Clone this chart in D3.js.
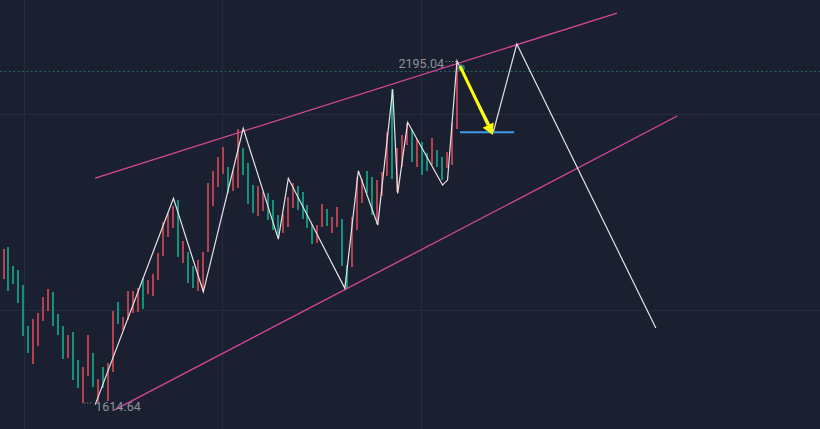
<!DOCTYPE html>
<html>
<head>
<meta charset="utf-8">
<script src="https://cdn.jsdelivr.net/npm/d3@7"></script>
<style>
html,body{margin:0;padding:0;background:#1b2030;overflow:hidden;}
svg{display:block;}
</style>
</head>
<body>
<svg id="chart" width="820" height="429"></svg>
<script>
// ---- data (weekly bars) ----
const dirs = "UDDDDDUUUU" + "DDDUDDUUDU" + "DUUDUUUUDU" + "UUUUUDUDDU" + "UUUUUDUUDD" +
             "DUUDDDUUUD" + "DDDUUDUUDD" + "UUUDDUUUDU" + "UUDUDDUDDU" + "UU";
const highs = [1875.4,1878.8,1846.5,1839.7,1814.2,1744.5,1756.4,1766.6,1793.8,1807.4,
  1802.3,1764.9,1744.5,1729.2,1734.3,1686.7,1674.8,1729.2,1698.6,1654.4,
  1674.8,1681.6,1770.0,1785.3,1759.8,1804.0,1804.0,1809.1,1826.1,1822.7,
  1832.9,1868.6,1921.3,1936.6,1948.5,1958.7,1889.0,1870.3,1846.5,1856.7,
  1870.3,1987.6,2008.0,2031.8,2048.8,2014.8,2009.7,2079.4,2047.1,2021.6,
  1984.2,1982.5,1972.3,1970.6,1958.7,1933.2,1934.9,1963.8,1987.6,1982.5,
  1972.3,1950.2,1917.9,1916.2,1951.9,1943.4,1929.8,1946.8,1926.4,1848.2,
  1929.8,1997.8,1994.4,2008.0,1997.8,1992.7,2006.3,2074.3,2147.4,2047.1,
  2069.2,2089.6,2079.4,2062.4,2057.3,2038.6,2064.1,2043.7,2031.8,2040.3,
  2089.6,2195.04];
const lows = [1824.4,1804.0,1815.9,1783.6,1727.5,1698.6,1679.9,1710.5,1753.0,1770.0,
  1744.5,1729.2,1688.4,1690.1,1652.7,1639.1,1614.64,1659.5,1640.8,1616.0,
  1639.1,1617.0,1666.3,1747.9,1737.7,1754.7,1766.6,1768.3,1773.4,1798.9,
  1795.5,1822.7,1863.5,1895.8,1911.1,1861.8,1851.6,1817.6,1809.1,1804.0,
  1802.3,1870.3,1948.5,1980.8,2002.9,1970.6,1974.0,1979.1,2001.2,1951.9,
  1936.6,1931.5,1940.0,1924.7,1907.7,1895.8,1902.6,1912.8,1945.1,1941.7,
  1926.4,1911.1,1883.9,1885.6,1912.8,1914.5,1902.6,1912.8,1846.5,1809.1,
  1844.8,1907.7,1953.6,1970.6,1933.2,1917.9,1965.5,1999.5,1994.4,1972.3,
  2014.8,2052.2,2023.3,2014.8,2001.2,2008.0,2018.2,2014.8,1992.7,2013.1,
  2018.2,2079.4];

const hiLabel = "2195.04", hiIdx = 91, hiPrice = 2195.04;
const loLabel = "1614.64", loIdx = 16, loPrice = 1614.64;
const lastPrice = 2178.0;

// zigzag wave (bar index, price), incl. projected path
const zigIdx   = [18.4, 34.1, 40.1, 48.1, 55.15, 57.15, 68.5, 71.2, 75.1, 78.1, 79.1, 81.1, 88.1, 89.1, 91.0, 98.3, 103.0, 130.9];
const zigPrice = [1611, 1961.6, 1802.8, 2080.6, 1892.4, 1995.6, 1808.6, 2008.5, 1916.2, 2146.9, 1970.1, 2090.8, 1984.2, 1992.7, 2195.04, 2074.8, 2223.9, 1741.1];

// channel lines
const upperIdx = [18.4, 123.1], upperPrice = [1996.1, 2276.6];
const lowerIdx = [22.2, 135.2], lowerPrice = [1601.7, 2101.5];

// arrow and target line
const arrowIdx = [91.6, 98.2], arrowPrice = [2186.5, 2069.2];
const targetIdx = [91.6, 102.45], targetPrice = 2073.8;

// grid
const gridPrices = [2104.9, 1771.7];
const gridIdx = [4.1, 43.85, 83.85];

// ---- drawing ----
const W = 820, H = 429;
const svg = d3.select("#chart");
const x = d3.scaleLinear().domain([0, 91]).range([3.5, 457]);
const y = d3.scaleLinear().domain([loPrice, hiPrice]).range([402.5, 61]);

svg.append("rect").attr("width", W).attr("height", H).attr("fill", "#1b2030");

// grid
svg.append("g").selectAll("line").data(gridPrices).join("line")
  .attr("x1", 0).attr("x2", W)
  .attr("y1", d => Math.round(y(d)) + 0.5).attr("y2", d => Math.round(y(d)) + 0.5)
  .attr("stroke", "#252c3b").attr("stroke-width", 1);
svg.append("g").selectAll("line").data(gridIdx).join("line")
  .attr("y1", 0).attr("y2", H)
  .attr("x1", d => Math.round(x(d)) + 0.5).attr("x2", d => Math.round(x(d)) + 0.5)
  .attr("stroke", "#252c3b").attr("stroke-width", 1);

// last price dotted line
svg.append("line")
  .attr("x1", 0).attr("x2", W)
  .attr("y1", Math.round(y(lastPrice)) + 0.5).attr("y2", Math.round(y(lastPrice)) + 0.5)
  .attr("stroke", "#2a6462").attr("stroke-width", 1).attr("stroke-dasharray", "2,2.4");

// candles
const bars = d3.range(highs.length).map(i => ({i, h: highs[i], l: lows[i], up: dirs[i] === "U"}));
svg.append("g").attr("shape-rendering", "crispEdges").selectAll("rect").data(bars).join("rect")
  .attr("x", d => Math.round(x(d.i)) - 1)
  .attr("width", 2)
  .attr("y", d => y(d.h))
  .attr("height", d => Math.max(1, y(d.l) - y(d.h)))
  .attr("fill", d => d.up ? "#b4414f" : "#14917b");

const line = d3.line().x(d => x(d[0])).y(d => y(d[1]));

// channel
svg.append("path").datum(d3.zip(upperIdx, upperPrice)).attr("d", line)
  .attr("fill", "none").attr("stroke", "#d9469a").attr("stroke-width", 1.3);
svg.append("path").datum(d3.zip(lowerIdx, lowerPrice)).attr("d", line)
  .attr("fill", "none").attr("stroke", "#d9469a").attr("stroke-width", 1.3);

// zigzag
svg.append("path").datum(d3.zip(zigIdx, zigPrice)).attr("d", line)
  .attr("fill", "none").attr("stroke", "#e3e3e6").attr("stroke-width", 1.2)
  .attr("stroke-linejoin", "miter");

// target line
svg.append("line")
  .attr("x1", x(targetIdx[0])).attr("x2", x(targetIdx[1]))
  .attr("y1", y(targetPrice)).attr("y2", y(targetPrice))
  .attr("stroke", "#3d9ae8").attr("stroke-width", 2);

// arrow start marker
svg.append("circle").attr("cx", x(arrowIdx[0]) + 1.5).attr("cy", y(arrowPrice[0]) + 2)
  .attr("r", 3.5).attr("fill", "#1f9c86").attr("opacity", 0.75);

// yellow arrow
const ax0 = x(arrowIdx[0]), ay0 = y(arrowPrice[0]), ax1 = x(arrowIdx[1]), ay1 = y(arrowPrice[1]);
const ang = Math.atan2(ay1 - ay0, ax1 - ax0);
const headLen = 11, headW = 6;
const bx = ax1 - headLen * Math.cos(ang), by = ay1 - headLen * Math.sin(ang);
svg.append("line").attr("x1", ax0).attr("y1", ay0).attr("x2", bx).attr("y2", by)
  .attr("stroke", "#ffff00").attr("stroke-width", 3);
svg.append("path")
  .attr("d", `M${ax1},${ay1}L${bx + headW * Math.sin(ang)},${by - headW * Math.cos(ang)}L${bx - headW * Math.sin(ang)},${by + headW * Math.cos(ang)}Z`)
  .attr("fill", "#ffff00");

// high / low labels
const labColor = "#8e929b";
const hx = x(hiIdx), hy = y(hiPrice);
svg.append("line").attr("x1", hx - 11).attr("x2", hx - 1).attr("y1", hy + 0.5).attr("y2", hy + 0.5)
  .attr("stroke", labColor).attr("stroke-width", 1).attr("stroke-dasharray", "1,2");
svg.append("text").attr("x", hx - 13).attr("y", hy + 7)
  .attr("text-anchor", "end").attr("fill", labColor)
  .attr("font-family", "Roboto, 'Liberation Sans', sans-serif").attr("font-size", 12.5)
  .text(hiLabel);

const lx = x(loIdx), ly = y(loPrice);
svg.append("line").attr("x1", lx + 1).attr("x2", lx + 10).attr("y1", ly + 0.5).attr("y2", ly + 0.5)
  .attr("stroke", labColor).attr("stroke-width", 1).attr("stroke-dasharray", "1,2");
svg.append("text").attr("x", lx + 12).attr("y", ly + 8)
  .attr("text-anchor", "start").attr("fill", labColor)
  .attr("font-family", "Roboto, 'Liberation Sans', sans-serif").attr("font-size", 12.5)
  .text(loLabel);
</script>
</body>
</html>
